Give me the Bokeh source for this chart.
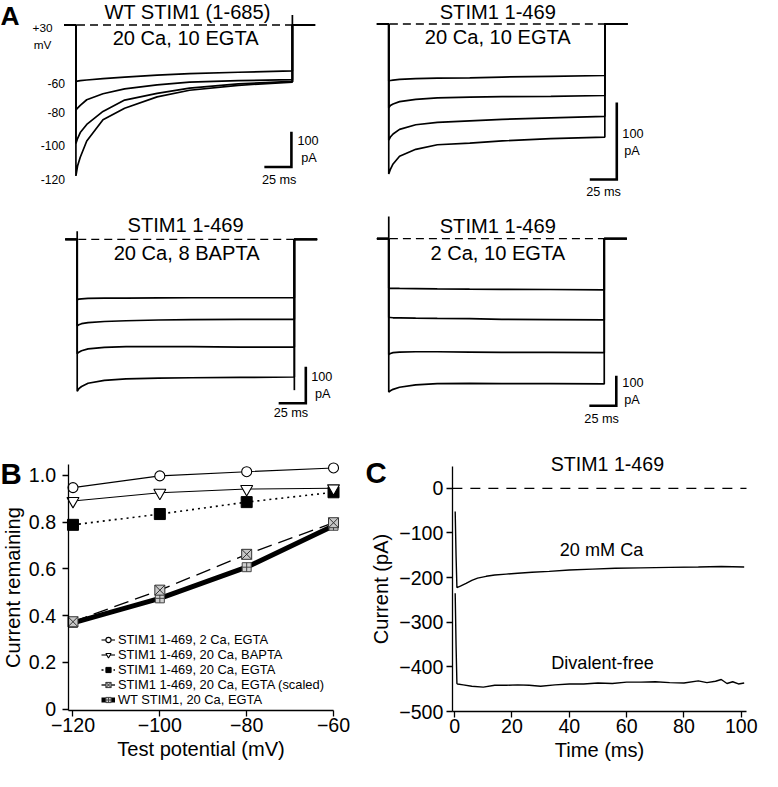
import numpy as np
from bokeh.plotting import figure
from bokeh.models import Range1d, Label, Legend, LegendItem, FixedTicker, CustomJSTickFormatter
from bokeh.layouts import column, row
from bokeh.embed import file_html
from bokeh.resources import INLINE

# ---------------- data ----------------
# Panel A: whole-cell currents (pA) sampled at these times (ms) of the 200 ms step
a_time = [0, 1.5, 4, 10, 25, 45, 75, 105, 150, 200]
a_sweep = [-11, 221]          # sweep start / end (ms), holding level
a_voltages = ["-60", "-80", "-100", "-120"]
scale_ms = 25
scale_pA = 100

a1_titles = ["WT STIM1 (1-685)", "20 Ca, 10 EGTA"]
a1_m60 = [-160, -159, -158, -156, -152, -148, -142, -138, -134, -130]
a1_m80 = [-241, -236, -228, -212, -195, -181, -170, -162, -158, -155]
a1_m100 = [-336, -322, -305, -282, -245, -213, -194, -179, -167, -160]
a1_m120 = [-428, -400, -375, -329, -269, -236, -204, -185, -171, -162]
a1_transients = [(200, -162, 28)]

a2_titles = ["STIM1 1-469", "20 Ca, 10 EGTA"]
a2_m60 = [-74, -73.5, -73, -72, -71, -70.5, -70, -69, -68, -67]
a2_m80 = [-109, -106, -104, -101, -98, -96, -95, -94.5, -94, -93]
a2_m100 = [-151, -147, -143, -137, -131, -128, -126, -124, -122, -120]
a2_m120 = [-195, -189, -182, -172, -163, -157, -155, -152, -149, -147]
a2_transients = []

a3_titles = ["STIM1 1-469", "20 Ca, 8 BAPTA"]
a3_m60 = [-165, -164, -163, -162, -161, -161, -160.5, -160, -160, -160]
a3_m80 = [-237, -234, -231, -228, -225, -223, -221, -220, -219, -219]
a3_m100 = [-313, -309, -305, -300, -296, -294, -294, -294, -295, -295]
a3_m120 = [-416, -409, -403, -394, -386, -382, -380, -379, -378, -377]
a3_transients = [(0, 0, 22), (200, -413, 0)]

a4_titles = ["STIM1 1-469", "2 Ca, 10 EGTA"]
a4_m60 = [-165, -165, -165, -165.5, -166, -167, -168, -168.5, -169, -170]
a4_m80 = [-262, -262, -263, -263, -264, -265, -266, -268, -269, -270]
a4_m100 = [-385, -382, -379, -377, -376, -376, -377, -378, -378, -379]
a4_m120 = [-510, -506, -501, -494, -486, -482, -481, -482, -482, -483]
a4_transients = [(0, 0, 74)]

# Panel B: fraction of current remaining vs test potential
b_voltage = [-120, -100, -80, -60]
b_yticks = [0, 0.2, 0.4, 0.6, 0.8, 1.0]
b_2ca_egta = [0.947, 0.997, 1.015, 1.031]
b_20ca_bapta = [0.890, 0.925, 0.941, 0.944]
b_20ca_egta = [0.788, 0.834, 0.885, 0.927]
b_20ca_egta_scaled = [0.374, 0.509, 0.662, 0.797]
b_wt_20ca_egta = [0.369, 0.474, 0.607, 0.784]
b_labels = ["STIM1 1-469, 2 Ca, EGTA", "STIM1 1-469, 20 Ca, BAPTA",
            "STIM1 1-469, 20 Ca, EGTA", "STIM1 1-469, 20 Ca, EGTA (scaled)",
            "WT STIM1, 20 Ca, EGTA"]

# Panel C: STIM1 1-469 currents
c_xticks = [0, 20, 40, 60, 80, 100]
c_yticks = [-500, -400, -300, -200, -100, 0]
c_time_ca = [0.2, 0.5, 0.8, 1.2, 2, 4, 6, 8, 11, 14, 18, 22, 27, 33, 40, 48, 56, 65, 75, 85, 93, 101]
c_ca = [-52, -150, -222, -221, -219, -213, -206, -201, -197, -194, -192, -190, -188, -186,
        -183, -181, -179, -178, -177, -176, -175, -176]
c_time_df = [0.2, 0.5, 0.8, 1, 3, 6, 10, 14, 18, 22, 26, 30, 35, 40, 45, 50, 55, 60, 65, 70,
             75, 80, 85, 88, 91, 93, 95, 97, 99, 101]
c_df = [-235, -350, -437, -438, -440, -443, -445, -441, -441, -440, -441, -443, -440, -438,
        -438, -436, -437, -434, -434, -433, -435, -436, -431, -435, -432, -428, -437, -433,
        -438, -436]

# ---------------- layout helpers ----------------
S = 0.9795
FONT = "Liberation Sans"


def fs(px):
    return f"{px * S:.1f}px"


def x_range_from(v0, p0, v1, p1, size):
    k = (v1 - v0) / (p1 - p0)
    return Range1d(v0 - p0 * k, v0 + (size - p0) * k)


def y_range_from(v0, p0, v1, p1, size):
    k = (v1 - v0) / (p1 - p0)
    return Range1d(v0 + (size - p0) * k, v0 - p0 * k)


class Panel:
    """Maps reference-picture pixel positions into a figure's data space."""

    def __init__(self, ox, oy, W, H, xr, yr):
        self.ox, self.oy, self.W, self.H, self.xr, self.yr = ox, oy, W, H, xr, yr

    def vx(self, rx):
        return self.xr.start + (rx - self.ox) * S / self.W * (self.xr.end - self.xr.start)

    def vy(self, ry):
        return self.yr.end - (ry - self.oy) * S / self.H * (self.yr.end - self.yr.start)


def add_text(p, m, text, rx, ry, size, align="center", bold=False):
    """Place text whose visual centre is at reference pixel (rx, ry)."""
    p.add_layout(Label(x=m.vx(rx), y=m.vy(ry), text=text, text_font=FONT,
                       text_font_size=fs(size),
                       text_font_style="bold" if bold else "normal",
                       text_align=align, text_baseline="middle", text_color="black"))


def base_fig(W, H, xr, yr, **kw):
    p = figure(width=W, height=H, x_range=xr, y_range=yr, output_backend="svg",
               toolbar_location=None, min_border=0, **kw)
    p.grid.visible = False
    p.outline_line_color = None
    p.background_fill_color = "white"
    p.border_fill_color = "white"
    return p


def trace_panel(box, t0px, t1px, zero_py, per100, traces, transients, titles, title_pos,
                bar_corner, bar_text, extra=None):
    ox, oy, W, H = box
    xr = x_range_from(0, (t0px - ox) * S, a_time[-1], (t1px - ox) * S, W)
    yr = y_range_from(0, (zero_py - oy) * S, -scale_pA, (zero_py + per100 - oy) * S, H)
    m = Panel(ox, oy, W, H, xr, yr)
    p = base_fig(W, H, xr, yr, x_axis_type=None, y_axis_type=None)
    # zero-current dashed line
    p.line(a_sweep, [0, 0], line_color="black", line_width=1.3, line_dash="8 5")
    for tr in traces:
        t = [a_sweep[0], 0] + a_time + [a_time[-1], a_sweep[1]]
        i = [0, 0] + tr + [0, 0]
        p.line(t, i, line_color="black", line_width=1.7)
    for (tt, i0, i1) in transients:
        p.line([tt, tt], [i0, i1], line_color="black", line_width=1.7)
    # scale bar
    bx, by = m.vx(bar_corner[0]), m.vy(bar_corner[1])
    p.line([bx - scale_ms, bx, bx], [by, by, by + scale_pA], line_color="black",
           line_width=2.6, line_join="miter")
    (x100, y100), (xpa, ypa), (xms, yms) = bar_text
    add_text(p, m, str(scale_pA), x100, y100, 13)
    add_text(p, m, "pA", xpa, ypa, 13)
    add_text(p, m, f"{scale_ms} ms", xms, yms, 13)
    for txt, (tx, ty) in zip(titles, title_pos):
        add_text(p, m, txt, tx, ty, 20.5)
    if extra:
        extra(p, m)
    return p


def a1_extra(p, m):
    add_text(p, m, "A", 0, 15.8, 27, align="left", bold=True)
    add_text(p, m, "+30", 43, 28, 12)
    add_text(p, m, "mV", 43, 45, 12)
    for v, ly in zip(a_voltages, [85, 114.7, 147.7, 182.3]):
        add_text(p, m, v, 66, ly, 12.5, align="right")


LW, RW = 367, 395
H1, H2, H3 = 214, 232, 325

pA1 = trace_panel((0, 0, LW, H1), 77, 298, 25, 36, [a1_m60, a1_m80, a1_m100, a1_m120],
                  a1_transients, a1_titles, [(191, 12), (189, 38.5)], (297, 170),
                  [(314, 143), (315, 161), (284.5, 183)], extra=a1_extra)
pA2 = trace_panel((375, 0, RW, H1), 396.7, 617.3, 24, 78.5, [a2_m60, a2_m80, a2_m100, a2_m120],
                  a2_transients, a2_titles, [(508, 12), (508, 37)], (629.5, 182.7),
                  [(646, 136), (645, 154), (616, 195)])
pA3 = trace_panel((0, 218, LW, H2), 78.3, 300, 243.3, 37.3, [a3_m60, a3_m80, a3_m100, a3_m120],
                  a3_transients, a3_titles, [(189, 228.3), (190, 257.5)], (311.7, 410.7),
                  [(328, 383), (329, 401), (296.5, 421)])
pA4 = trace_panel((375, 218, RW, H2), 396.7, 616.7, 242.7, 30.7, [a4_m60, a4_m80, a4_m100, a4_m120],
                  a4_transients, a4_titles, [(508, 229.5), (508, 257.5)], (629, 413.3),
                  [(646, 390), (645, 407.7), (614, 426.7)])


def style_axes(p, m, fl, fr, ft, fbm):
    """Axes pinned inside a full-canvas frame at the reference spine positions."""
    p.yaxis.fixed_location = m.vx(fl)
    p.yaxis.bounds = (m.vy(fbm), m.vy(ft))
    p.xaxis.fixed_location = m.vy(fbm)
    x_lo, x_hi = m.vx(fl), m.vx(fr)
    p.xaxis.bounds = (x_lo, x_hi + 1e-6 * abs(x_hi - x_lo))
    for ax in [p.xaxis[0], p.yaxis[0]]:
        ax.axis_line_width = 1.3
        ax.axis_line_color = "black"
        ax.major_tick_line_color = "black"
        ax.major_tick_line_width = 1.3
        ax.major_tick_in = 0
        ax.major_tick_out = 6
        ax.minor_tick_line_color = None
        ax.major_label_text_font = FONT
        ax.major_label_text_font_size = fs(20)
        ax.major_label_text_color = "black"
        ax.axis_label_text_font = FONT
        ax.axis_label_text_font_size = fs(20.5)
        ax.axis_label_text_font_style = "normal"
        ax.axis_label_text_color = "black"
    p.xaxis.major_label_standoff = 1
    p.xaxis.axis_label_standoff = 3
    return x_lo, x_hi


# ---------------- panel B ----------------
BW = 364
b_ox, b_oy = 0, 455
bxr = x_range_from(-120, (74 - b_ox) * S, -60, (340 - b_ox) * S, BW)
byr = y_range_from(0, (723.3 - b_oy) * S, 1.0, (484.3 - b_oy) * S, H3)
mB = Panel(b_ox, b_oy, BW, H3, bxr, byr)
pB = base_fig(BW, H3, bxr, byr, x_axis_label="Test potential (mV)",
              y_axis_label="Current remaining")
style_axes(pB, mB, 69, 340, 473, 725)
pB.yaxis.major_label_standoff = 6
pB.yaxis.axis_label_standoff = 2
pB.xaxis.ticker = FixedTicker(ticks=b_voltage)
pB.yaxis.ticker = FixedTicker(ticks=b_yticks)
pB.yaxis.formatter = CustomJSTickFormatter(code="return tick == 0 ? '0' : tick.toFixed(1);")

r_wt_l = pB.line(b_voltage, b_wt_20ca_egta, line_color="black", line_width=5)
r_wt_m = pB.scatter(b_voltage, b_wt_20ca_egta, marker="square_cross", size=9,
                    fill_color="#d0d0d0", line_color="#444444", line_width=1)
r_sc_l = pB.line(b_voltage, b_20ca_egta_scaled, line_color="black", line_width=1.3,
                 line_dash="15 7")
r_sc_m = pB.scatter(b_voltage, b_20ca_egta_scaled, marker="square_x", size=10,
                    fill_color="#c8c8c8", line_color="#333333", line_width=1)
r_eg_l = pB.line(b_voltage, b_20ca_egta, line_color="black", line_width=1.6, line_dash="2 4")
r_eg_m = pB.scatter(b_voltage, b_20ca_egta, marker="square", size=11, fill_color="black",
                    line_color="black")
r_ba_l = pB.line(b_voltage, b_20ca_bapta, line_color="black", line_width=1.1)
r_ba_m = pB.scatter(b_voltage, b_20ca_bapta, marker="inverted_triangle", size=12,
                    fill_color="white", line_color="black", line_width=1.1)
r_ca_l = pB.line(b_voltage, b_2ca_egta, line_color="black", line_width=1.1)
r_ca_m = pB.scatter(b_voltage, b_2ca_egta, marker="circle", size=10, fill_color="white",
                    line_color="black", line_width=1.1)

legend = Legend(items=[
    LegendItem(label=b_labels[0], renderers=[r_ca_l, r_ca_m]),
    LegendItem(label=b_labels[1], renderers=[r_ba_l, r_ba_m]),
    LegendItem(label=b_labels[2], renderers=[r_eg_l, r_eg_m]),
    LegendItem(label=b_labels[3], renderers=[r_sc_l, r_sc_m]),
    LegendItem(label=b_labels[4], renderers=[r_wt_l, r_wt_m]),
], location=((103 - b_ox) * S, H3 - (721 - b_oy) * S), orientation="vertical",
    label_text_font=FONT, label_text_font_size=fs(13.2), label_text_color="black",
    glyph_width=14, glyph_height=13, label_height=13, label_standoff=3, spacing=0,
    padding=0, margin=0, border_line_color=None, background_fill_alpha=0)
pB.add_layout(legend)
add_text(pB, mB, "B", 0, 482.5, 30, align="left", bold=True)

# ---------------- panel C ----------------
CW = 398
c_ox, c_oy = 372, 455
cxr = x_range_from(0, (464 - c_ox) * S, 100, (756.7 - c_ox) * S, CW)
cyr = y_range_from(0, (497.7 - c_oy) * S, -500, (725.7 - c_oy) * S, H3)
mC = Panel(c_ox, c_oy, CW, H3, cxr, cyr)
pC = base_fig(CW, H3, cxr, cyr, x_axis_label="Time (ms)", y_axis_label="Current (pA)")
c_lo, c_hi = style_axes(pC, mC, 461.7, 762, 475, 726)
pC.yaxis.major_label_standoff = 3
pC.yaxis.axis_label_standoff = 4
pC.xaxis.ticker = FixedTicker(ticks=c_xticks)
pC.yaxis.ticker = FixedTicker(ticks=c_yticks)
pC.line([c_lo, c_hi], [0, 0], line_color="black", line_width=1.3, line_dash="10 8")
pC.line(c_time_ca, c_ca, line_color="black", line_width=1.4)
pC.line(c_time_df, c_df, line_color="black", line_width=1.4)
add_text(pC, mC, "STIM1 1-469", 620, 473, 20)
add_text(pC, mC, "20 mM Ca", 614, 560.2, 18.5)
add_text(pC, mC, "Divalent-free", 615, 676.5, 18.5)
add_text(pC, mC, "C", 373, 481.5, 30, align="left", bold=True)

layout = column(row(pA1, pA2), row(pA3, pA4), row(pB, pC))
open("out.html", "w").write(file_html(layout, INLINE))
